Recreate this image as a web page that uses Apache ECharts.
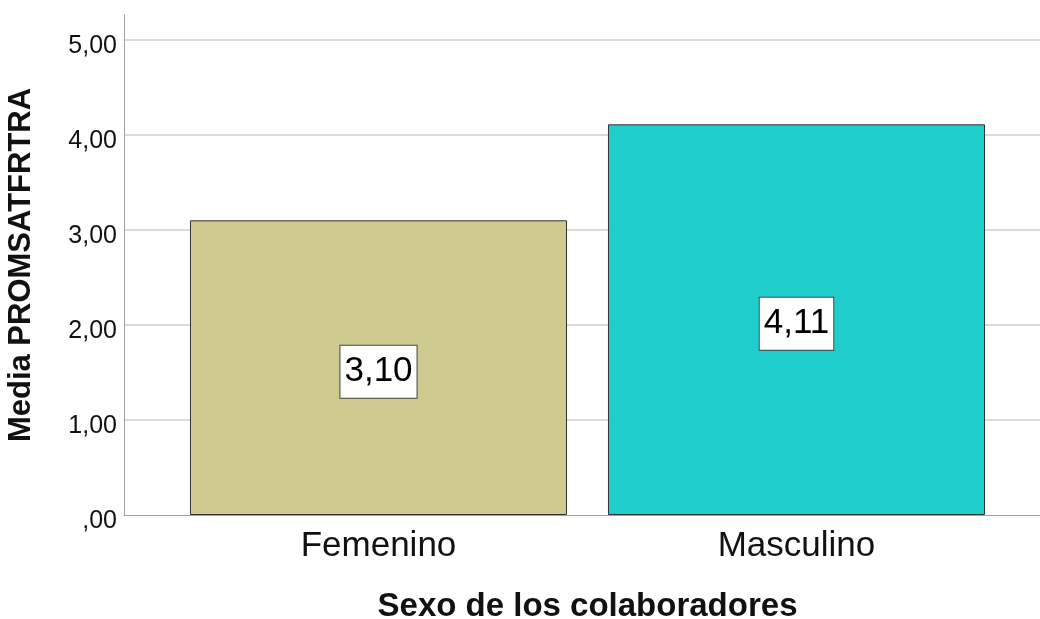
<!DOCTYPE html>
<html>
<head>
<meta charset="utf-8">
<script src="https://cdn.jsdelivr.net/npm/echarts@6/dist/echarts.min.js"></script>
<style>
  html, body { margin: 0; padding: 0; background: #fff; }
  #main { width: 1040px; height: 619px; }
</style>
</head>
<body>
<div id="main"></div>
<script>
// datos del grafico
var categories = ['Femenino', 'Masculino'];
var means = [3.10, 4.11];
var barColors = ['#CFCA8F', '#1FCECC'];
var yTitle = 'Media PROMSATFRTRA';
var xTitle = 'Sexo de los colaboradores';

var font = '"Liberation Sans", Arial, sans-serif';

// 3.1 -> "3,10", 0 -> ",00"
function fmt(v) {
  if (v === 0) return ',00';
  return v.toFixed(2).replace('.', ',');
}

var chart = echarts.init(document.getElementById('main'));

var option = {
  backgroundColor: '#fff',
  animation: false,
  textStyle: { fontFamily: font },
  grid: [
    // marco con eje Y y lineas de fondo
    { left: 124, right: 0, top: 15, bottom: 104, outerBoundsMode: 'none', containLabel: false },
    // zona de las barras
    { left: 169.5, right: 34.5, top: 15, bottom: 104, outerBoundsMode: 'none', containLabel: false }
  ],
  xAxis: [{
    gridIndex: 0,
    type: 'value',
    min: 0,
    max: 1,
    axisLine: { show: true, onZero: false, lineStyle: { color: '#a0a0a0', width: 1 } },
    axisTick: { show: false },
    axisLabel: { show: false },
    splitLine: { show: false }
  }, {
    gridIndex: 1,
    type: 'category',
    data: categories,
    axisLine: { show: false },
    axisTick: { show: false },
    axisLabel: {
      margin: 14,
      fontSize: 35,
      color: '#111',
      fontFamily: font
    },
    name: xTitle,
    nameLocation: 'middle',
    nameGap: 75,
    nameTextStyle: {
      fontSize: 33,
      fontWeight: 'bold',
      color: '#111',
      fontFamily: font
    }
  }],
  yAxis: [{
    gridIndex: 0,
    type: 'value',
    min: 0,
    max: 5.26,
    interval: 1,
    axisLine: { show: true, lineStyle: { color: '#a0a0a0', width: 1 } },
    axisTick: { show: false },
    axisLabel: {
      margin: 7,
      fontSize: 25,
      color: '#111',
      verticalAlign: 'top',
      lineHeight: 12,
      showMaxLabel: false,
      fontFamily: font,
      formatter: function (v) {
        if (Math.abs(v - Math.round(v)) > 1e-6) return '';
        return fmt(v);
      }
    },
    splitLine: {
      show: true,
      showMinLine: false,
      showMaxLine: false,
      lineStyle: { color: '#cfcfcf', width: 1.5 }
    },
    name: yTitle,
    nameLocation: 'middle',
    nameGap: 87,
    nameTextStyle: {
      fontSize: 31,
      fontWeight: 'bold',
      color: '#111',
      fontFamily: font
    }
  }, {
    gridIndex: 1,
    type: 'value',
    min: 0,
    max: 5.26,
    interval: 1,
    show: false
  }],
  series: [{
    type: 'bar',
    xAxisIndex: 1,
    yAxisIndex: 1,
    barCategoryGap: '9.8%',
    data: means.map(function (v, i) {
      return { value: v, itemStyle: { color: barColors[i] } };
    }),
    itemStyle: {
      borderColor: '#333',
      borderWidth: 1
    },
    label: {
      show: true,
      position: 'inside',
      offset: [0, 4],
      formatter: function (p) { return fmt(p.value); },
      fontSize: 35,
      lineHeight: 40,
      color: '#000',
      fontFamily: font,
      backgroundColor: '#fff',
      borderColor: '#444',
      borderWidth: 1,
      padding: [6, 4, 6, 4]
    }
  }]
};

chart.setOption(option);
</script>
</body>
</html>
